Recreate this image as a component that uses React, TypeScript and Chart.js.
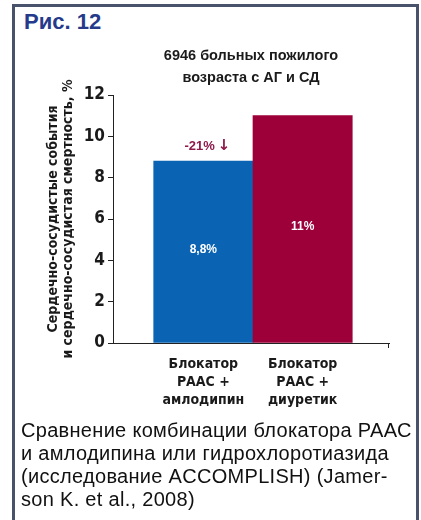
import { useEffect, useRef } from 'react';
import { Chart, registerables } from 'chart.js';

Chart.register(...registerables);

const FIGURE_LABEL = 'Рис. 12';
const CHART_TITLE = ['6946 больных пожилого', 'возраста с АГ и СД'];
const Y_TITLE = ['Сердечно-сосудистые события', 'и сердечно-сосудистая смертность, %'];
const CATEGORIES = [
  ['Блокатор', 'РААС +', 'амлодипин'],
  ['Блокатор', 'РААС +', 'диуретик'],
];
const VALUES = [8.8, 11];
const VALUE_LABELS = ['8,8%', '11%'];
const CHANGE_TEXT = '-21%';
const CHANGE_ARROW = '↓';
const Y_TICKS = [0, 2, 4, 6, 8, 10, 12];
const CAPTION = [
  'Сравнение комбинации блокатора РААС',
  'и амлодипина или гидрохлоротиазида',
  '(исследование ACCOMPLISH) (Jamer-',
  'son K. et al., 2008)',
];
const BAR_COLORS = ['#0b63b3', '#9d0039'];

const NARROW = "'Liberation Sans Narrow', 'DejaVu Sans Condensed', 'Liberation Sans', sans-serif";
const SANS = "'Liberation Sans', Arial, sans-serif";
const AXIS_COLOR = '#222';

const labelsPlugin = {
  id: 'barLabels',
  afterDatasetsDraw(chart: any) {
    const ctx = chart.ctx;
    const meta = chart.getDatasetMeta(0);
    ctx.save();
    ctx.textBaseline = 'middle';
    meta.data.forEach((bar: any, i: number) => {
      ctx.textAlign = 'center';
      ctx.fillStyle = '#ffffff';
      ctx.font = `bold 12px ${SANS}`;
      ctx.fillText(VALUE_LABELS[i], bar.x, (bar.y + bar.base) / 2 - 2);
    });
    const first = meta.data[0];
    if (first) {
      ctx.fillStyle = '#8e1a4c';
      const cx = first.x + 4;
      const cy = first.y - 15;
      ctx.font = `bold 13px ${SANS}`;
      const w1 = ctx.measureText(CHANGE_TEXT).width;
      ctx.font = `bold 15px 'DejaVu Sans', sans-serif`;
      const w2 = ctx.measureText(CHANGE_ARROW).width;
      const total = w1 + 3 + w2;
      ctx.textAlign = 'left';
      ctx.font = `bold 13px ${SANS}`;
      ctx.fillText(CHANGE_TEXT, cx - total / 2, cy);
      ctx.font = `bold 15px 'DejaVu Sans', sans-serif`;
      ctx.fillText(CHANGE_ARROW, cx - total / 2 + w1 + 3, cy);
    }
    // small end tick at right end of x axis
    const xs = chart.scales.x;
    ctx.strokeStyle = AXIS_COLOR;
    ctx.lineWidth = 1;
    ctx.beginPath();
    ctx.moveTo(Math.round(xs.right) - 0.5, xs.top);
    ctx.lineTo(Math.round(xs.right) - 0.5, xs.top + 5);
    ctx.stroke();
    ctx.restore();
  },
};

export default function App() {
  const canvasRef = useRef<HTMLCanvasElement | null>(null);

  useEffect(() => {
    const canvas = canvasRef.current;
    if (!canvas) return;
    const chart = new Chart(canvas, {
      type: 'bar',
      data: {
        datasets: [
          {
            data: VALUES.map((v, i) => ({ x: i + 1, y: v })),
            backgroundColor: BAR_COLORS,
            borderWidth: 0,
            barPercentage: 1,
            categoryPercentage: 1,
          },
        ],
      },
      options: {
        responsive: false,
        animation: false,
        layout: { padding: { left: 0, right: 32, top: 0, bottom: 0 } },
        plugins: {
          legend: { display: false },
          tooltip: { enabled: false },
          title: {
            display: true,
            fullSize: false,
            text: CHART_TITLE,
            color: '#1a1a1a',
            font: { family: SANS, size: 14.5, weight: 'bold', lineHeight: '22px' },
            padding: { top: 5, bottom: 6 },
          },
        },
        scales: {
          x: {
            type: 'linear',
            min: 0.09,
            max: 2.87,
            offset: false,
            grid: { display: false },
            border: { display: true, color: AXIS_COLOR, width: 1 },
            afterBuildTicks: (scale: any) => {
              scale.ticks = CATEGORIES.map((_, i) => ({ value: i + 1 }));
            },
            afterFit: (scale: any) => {
              scale.height = 77;
            },
            ticks: {
              autoSkip: false,
              maxRotation: 0,
              padding: 4,
              color: '#1a1a1a',
              font: { family: NARROW, size: 14, weight: 'bold', lineHeight: '18px' },
              callback: (_v: any, index: number) => CATEGORIES[index],
            },
          },
          y: {
            type: 'linear',
            min: Y_TICKS[0],
            max: Y_TICKS[Y_TICKS.length - 1],
            afterBuildTicks: (scale: any) => {
              scale.ticks = Y_TICKS.map((v) => ({ value: v }));
            },
            afterFit: (scale: any) => {
              scale.width = 113;
            },
            grid: {
              display: true,
              drawOnChartArea: false,
              drawTicks: true,
              tickLength: 5,
              color: AXIS_COLOR,
            },
            border: { display: true, color: AXIS_COLOR, width: 1 },
            ticks: {
              padding: 3,
              color: '#1a1a1a',
              font: { family: NARROW, size: 17, weight: 'bold' },
            },
            title: {
              display: true,
              text: Y_TITLE,
              color: '#1a1a1a',
              font: { family: NARROW, size: 14, weight: 'bold', lineHeight: '15px' },
              padding: { top: 46, bottom: 0 },
            },
          },
        },
      },
      plugins: [labelsPlugin],
    } as any);
    return () => chart.destroy();
  }, []);

  return (
    <div
      style={{
        position: 'absolute',
        left: 0,
        top: 0,
        width: 421,
        height: 520,
        background: '#ffffff',
        overflow: 'hidden',
      }}
    >
      <div
        style={{
          position: 'absolute',
          left: 12,
          top: 4,
          width: 401,
          height: 560,
          border: '3px solid #48526a',
        }}
      />
      <div
        style={{
          position: 'absolute',
          left: 24,
          top: 11,
          fontFamily: SANS,
          fontWeight: 'bold',
          fontSize: 22,
          lineHeight: '22px',
          color: '#253a8a',
          whiteSpace: 'nowrap',
        }}
      >
        {FIGURE_LABEL}
      </div>
      <canvas
        ref={canvasRef}
        width={421}
        height={380}
        style={{ position: 'absolute', left: 0, top: 40, width: 421, height: 380 }}
      />
      <div
        style={{
          position: 'absolute',
          left: 21,
          top: 419,
          fontFamily: SANS,
          fontSize: 20,
          letterSpacing: '0.3px',
          lineHeight: '23px',
          color: '#111',
          whiteSpace: 'nowrap',
        }}
      >
        {CAPTION.map((line, i) => (
          <div key={i}>{line}</div>
        ))}
      </div>
    </div>
  );
}
